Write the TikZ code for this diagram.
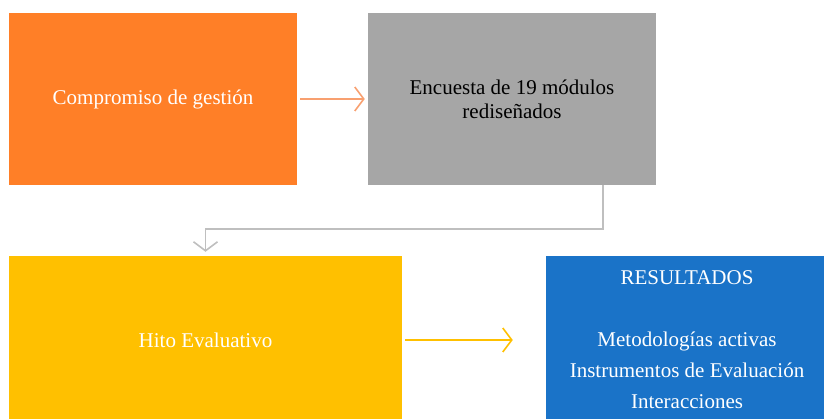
\documentclass[tikz,border=0pt]{standalone}
\usepackage{fontspec}
\setmainfont{Liberation Serif}
\usetikzlibrary{arrows.meta}

\definecolor{boxorange}{HTML}{FF7F27}
\definecolor{boxgray}{HTML}{A6A6A6}
\definecolor{boxyellow}{HTML}{FFC000}
\definecolor{boxblue}{HTML}{1A73C8}
\definecolor{linkgray}{HTML}{BFBFBF}
\definecolor{linkorange}{HTML}{F8A070}

\begin{document}
\begin{tikzpicture}[x=1pt, y=-1pt,
    box/.style={rectangle, inner sep=0pt, align=center, text=white,
                font=\fontsize{21}{31}\selectfont},
    link/.style={line width=1.6pt, -{Straight Barb[length=9pt, width=24pt, line width=1.6pt]}}]
  \useasboundingbox (0,0) rectangle (824,419);
  \node[box, fill=boxorange, minimum width=288pt, minimum height=172pt] (gestion) at (153,99) {Compromiso de gestión};
  \node[box, fill=boxgray, text=black, font=\fontsize{21}{24}\selectfont, minimum width=288pt, minimum height=172pt] (encuesta) at (512,99) {Encuesta de 19 módulos\\rediseñados};
  \node[box, fill=boxyellow, minimum width=393pt, minimum height=168pt] (hito) at (205.5,340) {Hito Evaluativo};
  \node[box, fill=boxblue, minimum width=282pt, minimum height=168pt] (resultados) at (687,340)
    {RESULTADOS\\ \\Metodologías activas\\Instrumentos de Evaluación\\Interacciones};
  % connectors
  \draw[link, linkorange, shorten <=3pt, shorten >=3pt] (gestion.east) -- (encuesta.west);
  \draw[link, linkgray, line width=1.4pt, shorten >=4pt] ([xshift=91pt]encuesta.south) -- ++(0,44) -| (hito.north);
  \draw[link, boxyellow, shorten <=3pt, shorten >=33pt] (hito.east) -- (hito.east -| resultados.west);
\end{tikzpicture}
\end{document}
